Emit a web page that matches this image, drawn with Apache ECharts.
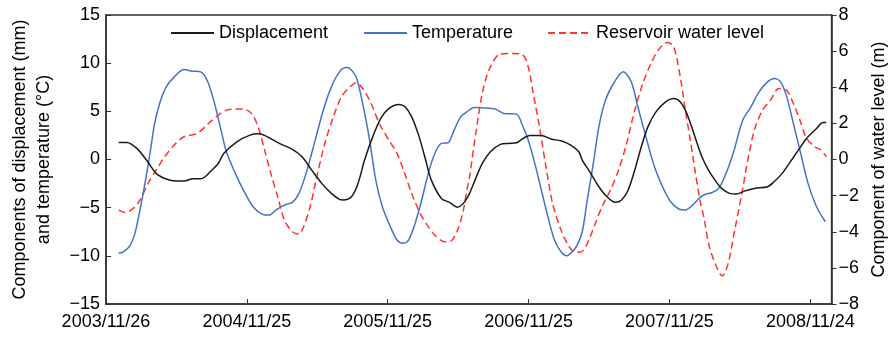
<!DOCTYPE html>
<html>
<head>
<meta charset="utf-8">
<script src="https://cdn.jsdelivr.net/npm/echarts@6/dist/echarts.min.js"></script>
<style>
  html, body { margin: 0; padding: 0; background: #fff; }
  #chart { width: 896px; height: 338px; }
</style>
</head>
<body>
<div id="chart"></div>
<script>
// Time is measured in days since 2003/11/26; ticks fall every 365 days.
const dateTicks = ['2003/11/26', '2004/11/25', '2005/11/25', '2006/11/25', '2007/11/25', '2008/11/24'];
const dayStep = 365;
const dayMax = 1880;

// Displacement component (mm)
const dispDays = [33,54,80,105,130,156,181,207,224,245,257,270,291,305,339,373,394,415,449,483,508,533,559,584,605,615,636,653,670,691,712,733,759,775,792,810,826,843,869,890,911,925,935,942,958,975,996,1022,1043,1064,1077,1098,1128,1153,1179,1204,1225,1234,1256,1277,1298,1319,1336,1353,1370,1387,1404,1425,1450,1471,1488,1505,1526,1544,1561,1578,1595,1616,1633,1654,1680,1714,1731,1752,1773,1794,1815,1841,1858,1866];
const dispValues = [1.77,1.77,1.15,-0.06,-1.44,-2.03,-2.24,-2.2,-2.0,-2.0,-1.79,-1.27,-0.41,0.63,1.84,2.53,2.67,2.43,1.67,1.05,0.28,-1.1,-2.48,-3.52,-4.14,-4.2,-3.87,-2.48,-0.06,2.35,4.26,5.3,5.71,5.47,4.43,2.53,0.28,-2.14,-4.04,-4.45,-4.95,-4.6,-4.04,-3.52,-1.96,-0.4,0.8,1.57,1.67,1.73,2.08,2.5,2.5,2.12,1.94,1.49,0.8,-0.06,-1.44,-2.83,-3.87,-4.45,-4.21,-3.17,-1.1,1.32,3.39,4.95,5.98,6.34,5.98,4.78,2.35,0.28,-1.1,-2.14,-3.0,-3.52,-3.59,-3.28,-3.0,-2.83,-2.31,-1.44,-0.24,0.97,2.19,3.22,3.85,3.85];

// Temperature component (°C)
const tempDays = [33,46,63,75,88,101,114,126,139,156,177,202,224,245,262,279,295,312,335,356,381,406,423,440,462,483,500,521,542,563,584,605,622,632,648,665,683,699,716,737,754,770,784,801,818,835,852,869,886,902,919,935,954,975,1009,1030,1064,1077,1094,1111,1128,1145,1162,1179,1194,1208,1221,1234,1247,1264,1277,1294,1315,1340,1361,1378,1399,1421,1442,1463,1484,1501,1522,1539,1554,1569,1587,1603,1625,1650,1671,1692,1714,1732,1748,1764,1781,1798,1819,1841,1864];
const tempValues = [-9.74,-9.57,-8.88,-7.67,-5.25,-2.48,0.63,3.74,5.82,7.54,8.58,9.34,9.17,9.1,8.23,6.16,3.57,0.8,-1.44,-3.17,-4.9,-5.69,-5.77,-5.25,-4.73,-4.45,-3.52,-1.1,2.01,5.12,7.54,9.1,9.55,9.45,8.58,5.82,2.01,-2.14,-4.9,-6.98,-8.36,-8.7,-8.36,-6.63,-4.21,-1.44,0.63,1.67,1.73,3.05,4.43,4.95,5.4,5.36,5.23,4.78,4.71,3.74,2.01,-0.4,-3.17,-5.94,-8.36,-9.57,-9.99,-9.57,-8.88,-7.5,-4.2,-0.06,3.39,6.16,7.89,9.1,8.06,5.47,2.35,-0.76,-2.83,-4.39,-5.14,-5.25,-4.66,-3.93,-3.6,-3.45,-3.0,-1.79,0.63,4.09,5.47,7.02,8.06,8.41,8.06,6.5,3.74,0.97,-2.48,-4.9,-6.46];

// Reservoir water level component (m), right axis
const levelDays = [33,50,71,88,109,130,152,177,202,236,266,291,312,330,356,377,394,411,427,445,462,483,500,512,529,546,567,589,610,632,648,665,687,708,733,754,771,792,814,835,856,877,894,911,925,935,942,958,975,992,1018,1043,1077,1094,1107,1123,1140,1157,1179,1200,1217,1229,1241,1251,1268,1285,1307,1328,1349,1370,1391,1412,1434,1455,1471,1488,1501,1514,1526,1539,1551,1561,1578,1597,1612,1629,1646,1663,1680,1701,1722,1743,1763,1781,1798,1815,1837,1853,1866];
const levelValues = [-2.8,-2.93,-2.7,-2.25,-1.32,-0.59,0.15,0.8,1.26,1.44,2.0,2.46,2.73,2.79,2.79,2.55,1.81,0.52,-0.77,-2.06,-3.35,-4.0,-4.13,-3.72,-2.62,-0.96,0.89,2.36,3.47,4.02,4.24,3.93,3.1,2.0,1.07,0.34,-0.59,-1.88,-2.98,-3.72,-4.28,-4.55,-4.51,-3.9,-2.9,-1.69,-0.96,1.44,3.66,4.94,5.81,5.87,5.83,5.13,3.66,1.81,-0.4,-2.43,-3.9,-4.83,-5.14,-5.14,-4.9,-4.46,-3.53,-2.62,-1.69,-0.59,0.89,2.73,4.21,5.32,6.14,6.48,6.23,4.57,2.73,1.07,-0.59,-2.25,-3.4,-4.64,-5.75,-6.45,-5.75,-3.9,-2.06,-0.03,1.63,2.73,3.29,3.93,3.84,3.1,2.18,1.17,0.7,0.52,0.15];

const pairs = (xs, ys) => xs.map((x, i) => [x, ys[i]]);
const minusSign = v => String(v).replace('-', '\u2212');

const FONT = 'Liberation Sans, Arial, sans-serif';
const AXIS_COLOR = '#333';
const textStyle = { fontFamily: FONT, fontSize: 18, color: '#000' };

const chart = echarts.init(document.getElementById('chart'), null, { renderer: 'canvas' });

// Legend entries show only the line sample, no marker
const legendBase = {
  top: 24,
  padding: 0,
  itemWidth: 43,
  itemHeight: 14,
  itemGap: 0,
  textStyle: textStyle,
  itemStyle: { opacity: 0 },
  selectedMode: false
};

chart.setOption({
  animation: false,
  backgroundColor: '#fff',
  grid: {
    left: 102, right: 54, top: 15, bottom: 34,
    show: true, borderColor: AXIS_COLOR, borderWidth: 1.5, backgroundColor: 'transparent'
  },
  legend: [
    Object.assign({ left: 170, data: ['Displacement'] }, legendBase),
    Object.assign({ left: 363, data: ['Temperature'] }, legendBase),
    Object.assign({ left: 547, data: ['Reservoir water level'] }, legendBase)
  ],
  xAxis: {
    type: 'value',
    min: 0,
    max: dayMax,
    interval: dayStep,
    axisLine: { show: true, onZero: false, lineStyle: { color: AXIS_COLOR, width: 1.5 } },
    axisTick: { show: true, inside: true, length: 5, lineStyle: { color: AXIS_COLOR, width: 1 } },
    splitLine: { show: false },
    axisLabel: {
      margin: 9,
      showMaxLabel: false,
      fontFamily: FONT, fontSize: 18, color: '#000',
      formatter: v => (v % dayStep === 0 ? (dateTicks[v / dayStep] || '') : '')
    }
  },
  yAxis: [
    {
      type: 'value',
      min: -15, max: 15, interval: 5,
      name: 'Components of displacement (mm)\nand temperature (°C)',
      nameLocation: 'middle',
      nameRotate: 90,
      nameGap: 50,
      nameTextStyle: { fontFamily: FONT, fontSize: 18, color: '#000', lineHeight: 24, align: 'center' },
      axisLine: { show: true, lineStyle: { color: AXIS_COLOR, width: 1.5 } },
      axisTick: { show: true, inside: true, length: 5, lineStyle: { color: AXIS_COLOR, width: 1 } },
      splitLine: { show: false },
      axisLabel: { margin: 6, fontFamily: FONT, fontSize: 18, color: '#000', formatter: minusSign }
    },
    {
      type: 'value',
      position: 'right',
      min: -8, max: 8, interval: 2,
      name: 'Component of water level (m)',
      nameLocation: 'middle',
      nameRotate: 90,
      nameGap: 38,
      nameTextStyle: { fontFamily: FONT, fontSize: 18, color: '#000' },
      axisLine: { show: true, lineStyle: { color: AXIS_COLOR, width: 1.5 } },
      axisTick: { show: true, inside: false, length: 5, lineStyle: { color: AXIS_COLOR, width: 1 } },
      splitLine: { show: false },
      axisLabel: { margin: 7, fontFamily: FONT, fontSize: 18, color: '#000', formatter: minusSign }
    }
  ],
  series: [
    {
      name: 'Displacement',
      type: 'line',
      yAxisIndex: 0,
      data: pairs(dispDays, dispValues),
      symbol: 'none',
      smooth: 0.3,
      lineStyle: { color: '#1a1a1a', width: 1.5 },
      itemStyle: { color: '#1a1a1a' },
      z: 3
    },
    {
      name: 'Temperature',
      type: 'line',
      yAxisIndex: 0,
      data: pairs(tempDays, tempValues),
      symbol: 'none',
      smooth: 0.3,
      lineStyle: { color: '#4472c4', width: 1.5 },
      itemStyle: { color: '#4472c4' },
      z: 2
    },
    {
      name: 'Reservoir water level',
      type: 'line',
      yAxisIndex: 1,
      data: pairs(levelDays, levelValues),
      symbol: 'none',
      smooth: 0.3,
      lineStyle: { color: '#ff3333', width: 1.5, type: [7, 4] },
      itemStyle: { color: '#ff3333' },
      z: 1
    }
  ]
});
</script>
</body>
</html>
